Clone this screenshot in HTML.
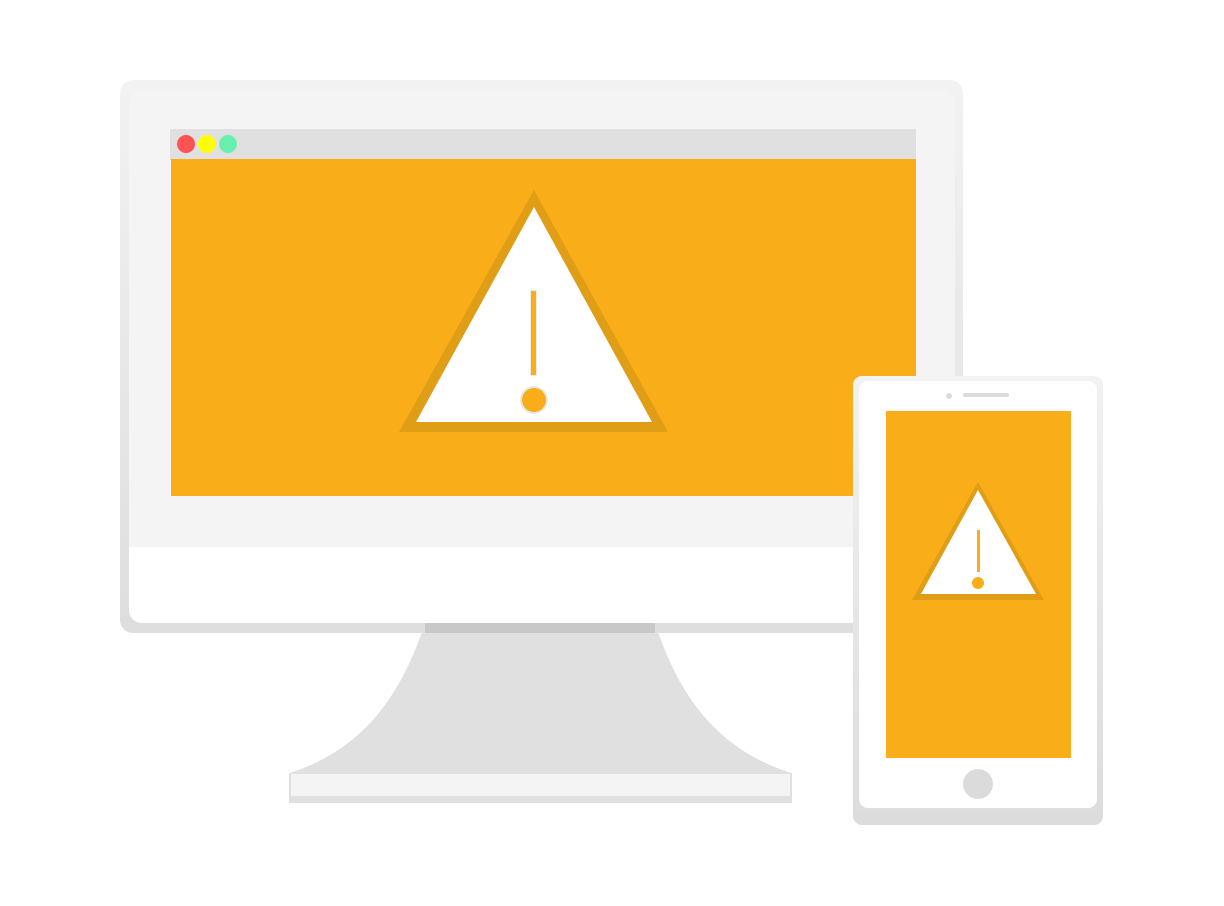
<!DOCTYPE html>
<html><head><meta charset="utf-8"><style>html,body{margin:0;padding:0;background:#fff;}svg{display:block}</style></head>
<body>
<svg width="1224" height="906" viewBox="0 0 1224 906" xmlns="http://www.w3.org/2000/svg">
<defs>
<linearGradient id="g1" x1="0" y1="0" x2="0" y2="1"><stop offset="0" stop-color="#f2f2f2"/><stop offset="1" stop-color="#dedede"/></linearGradient>
<linearGradient id="g2" x1="0" y1="0" x2="0" y2="1"><stop offset="0" stop-color="#f2f2f2"/><stop offset="1" stop-color="#dcdcdc"/></linearGradient>
</defs>
<!-- stand -->
<path d="M425 623 L655 623 C680 700 720 750 791 773 L290 773 C360 750 400 700 425 623 Z" fill="#e0e0e0"/>
<rect x="289" y="773" width="503" height="30" fill="#e0e0e0"/>
<rect x="291" y="774" width="499" height="22" fill="#f4f4f4"/>
<!-- monitor -->
<rect x="120" y="80" width="843" height="553" rx="13" fill="url(#g1)"/>
<rect x="129" y="91" width="826" height="532" rx="13" fill="#fff"/>
<path d="M142 91 H942 a13 13 0 0 1 13 13 V547 H129 V104 a13 13 0 0 1 13 -13Z" fill="#f4f4f4"/>
<rect x="425" y="623" width="230" height="10" fill="#c8c8c8"/>
<rect x="170" y="129" width="746" height="31" fill="#e0e0e0"/>
<rect x="171" y="159" width="745" height="337" fill="#f9ae19"/>
<circle cx="186" cy="144" r="9" fill="#ff5252"/>
<circle cx="207" cy="144" r="9" fill="#ffff00"/>
<circle cx="228" cy="144" r="9" fill="#69f0ae"/>
<polygon points="534,190 399,432 668,432" fill="#e09e17"/>
<polygon points="534,207 416,422 652,422" fill="#fff"/>
<rect x="530" y="290" width="7" height="86" fill="#eaeaea"/>
<rect x="531" y="291" width="5" height="84" fill="#f9ae19"/>
<circle cx="534" cy="400" r="14" fill="#e6e6e6"/>
<circle cx="534" cy="400" r="12" fill="#f9ae19"/>
<!-- phone -->
<rect x="853" y="376" width="250" height="449" rx="9" fill="url(#g2)"/>
<rect x="859" y="381" width="238" height="427" rx="9" fill="#fff"/>
<circle cx="949" cy="396" r="3" fill="#dbdbdb"/>
<rect x="963" y="393" width="46" height="4" rx="2" fill="#dbdbdb"/>
<rect x="886" y="411" width="185" height="347" fill="#f9ae19"/>
<circle cx="978" cy="784" r="15" fill="#dbdbdb"/>
<polygon points="978,482 912,600 1044,600" fill="#e09e17"/>
<polygon points="978,490 921,594 1036,594" fill="#fff"/>
<rect x="977" y="530" width="3" height="42" fill="#f9ae19"/>
<circle cx="978" cy="583" r="6" fill="#f9ae19"/>
</svg>
</body></html>
